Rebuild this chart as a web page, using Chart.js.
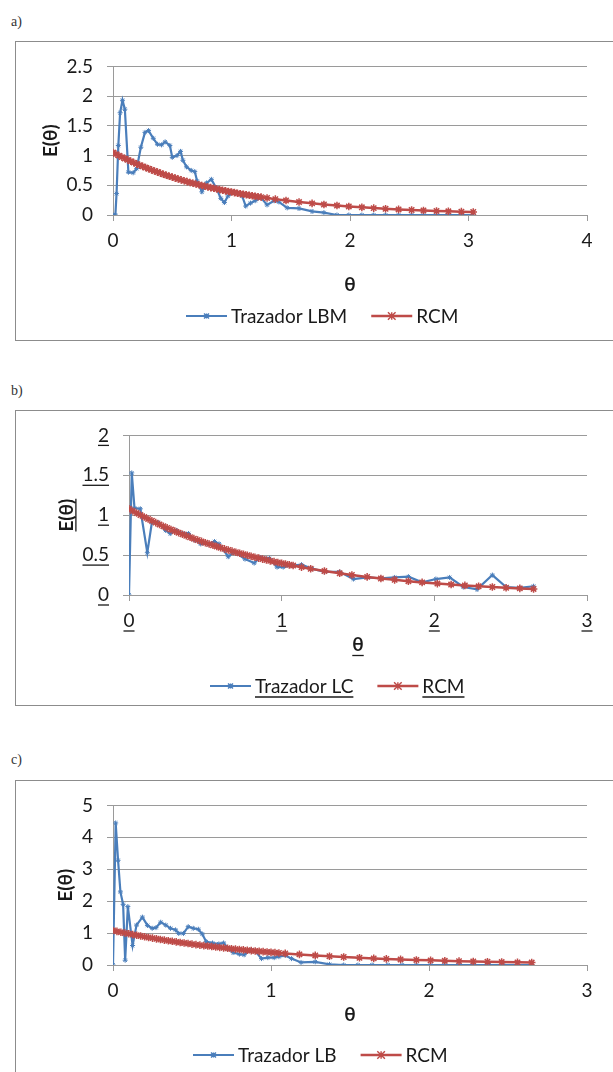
<!DOCTYPE html>
<html>
<head>
<meta charset="utf-8">
<script src="https://cdn.jsdelivr.net/npm/chart.js@4.4.1/dist/chart.umd.min.js"></script>
<style>
  body { margin: 0; background: #fff; width: 613px; height: 1072px; overflow: hidden; position: relative; }
  .lbl { position: absolute; left: 11px; font: 14px "Liberation Serif", serif; color: #333; }
  .box { position: absolute; left: 15px; width: 640px; border: 1px solid #8c8c8c; box-sizing: border-box; }
  canvas { position: absolute; left: 0; }
</style>
</head>
<body>
<div class="lbl" style="top:14px">a)</div>
<div class="box" style="top:41px;height:300px"></div>
<canvas id="chartA" width="613" height="299" style="top:41px"></canvas>

<div class="lbl" style="top:383px">b)</div>
<div class="box" style="top:410px;height:296px"></div>
<canvas id="chartB" width="613" height="295" style="top:410px"></canvas>

<div class="lbl" style="top:752px">c)</div>
<div class="box" style="top:780px;height:320px"></div>
<canvas id="chartC" width="613" height="292" style="top:780px"></canvas>

<script>
// a) Trazador LBM vs RCM
var aLbmTheta = [0, 0.02, 0.03, 0.045, 0.06, 0.08, 0.10, 0.13, 0.17, 0.20, 0.235, 0.27, 0.30, 0.34, 0.375, 0.41, 0.44, 0.48, 0.50, 0.54,
  0.57, 0.59, 0.62, 0.66, 0.69, 0.71, 0.75, 0.79, 0.83, 0.87, 0.91, 0.94, 0.97, 1.02, 1.09, 1.12, 1.16, 1.20, 1.25, 1.30,
  1.36, 1.40, 1.47, 1.57, 1.68, 1.78, 1.89, 1.99, 2.10, 2.20, 2.30, 2.41, 2.52, 2.62, 2.73, 2.83, 2.94, 3.04];
var aLbmE = [0, 0, 0.36, 1.17, 1.72, 1.93, 1.78, 0.72, 0.71, 0.78, 1.14, 1.39, 1.42, 1.29, 1.19, 1.18, 1.23, 1.17, 0.97, 1.00,
  1.07, 0.92, 0.81, 0.75, 0.73, 0.57, 0.39, 0.54, 0.60, 0.46, 0.28, 0.21, 0.32, 0.38, 0.32, 0.15, 0.20, 0.24, 0.29, 0.17,
  0.24, 0.22, 0.12, 0.11, 0.06, 0.04, 0, 0, 0, 0, 0, 0, 0, 0, 0, 0, 0, 0];
var aRcmTheta = [0, 0.025, 0.05, 0.075, 0.1, 0.125, 0.15, 0.175, 0.2, 0.225, 0.25, 0.275, 0.3, 0.325, 0.35, 0.375, 0.4, 0.425, 0.45, 0.475,
  0.5, 0.525, 0.55, 0.575, 0.6, 0.625, 0.65, 0.675, 0.7, 0.725, 0.75, 0.775, 0.8, 0.825, 0.85, 0.875, 0.9, 0.925, 0.95, 0.975,
  1.0, 1.025, 1.05, 1.075, 1.1, 1.125, 1.15, 1.175, 1.2, 1.225, 1.25, 1.30, 1.37, 1.46, 1.57, 1.68, 1.78, 1.89, 1.99, 2.10,
  2.20, 2.30, 2.41, 2.52, 2.62, 2.73, 2.83, 2.94, 3.04];
var aRcmE = [1.050, 1.024, 0.999, 0.974, 0.950, 0.927, 0.904, 0.881, 0.860, 0.838, 0.818, 0.798, 0.778, 0.759, 0.740, 0.722, 0.704, 0.686, 0.669, 0.653,
  0.637, 0.621, 0.606, 0.591, 0.576, 0.562, 0.548, 0.535, 0.521, 0.509, 0.496, 0.484, 0.472, 0.460, 0.449, 0.438, 0.427, 0.416, 0.406, 0.396,
  0.386, 0.377, 0.367, 0.358, 0.350, 0.341, 0.332, 0.324, 0.316, 0.308, 0.301, 0.286, 0.267, 0.244, 0.218, 0.196, 0.177, 0.159, 0.144, 0.129,
  0.116, 0.105, 0.094, 0.084, 0.076, 0.068, 0.062, 0.056, 0.050];

// b) Trazador LC vs RCM
var bLcTheta = [0, 0.018, 0.036, 0.074, 0.12, 0.15, 0.19, 0.24, 0.27, 0.31, 0.36, 0.39, 0.43, 0.47, 0.52, 0.56, 0.59, 0.65, 0.69, 0.76,
  0.82, 0.86, 0.92, 0.97, 1.01, 1.07, 1.13, 1.20, 1.28, 1.38, 1.47, 1.56, 1.65, 1.74, 1.83, 1.92, 2.01, 2.10, 2.19, 2.28,
  2.38, 2.47, 2.56, 2.65];
var bLcE = [0, 1.53, 1.09, 1.08, 0.53, 0.91, 0.91, 0.81, 0.77, 0.81, 0.77, 0.77, 0.69, 0.64, 0.64, 0.67, 0.64, 0.48, 0.54, 0.45,
  0.40, 0.47, 0.46, 0.35, 0.35, 0.37, 0.38, 0.33, 0.29, 0.29, 0.20, 0.22, 0.21, 0.22, 0.23, 0.16, 0.20, 0.22, 0.10, 0.07,
  0.25, 0.10, 0.09, 0.11];
var bRcmTheta = [0, 0.025, 0.05, 0.075, 0.1, 0.125, 0.15, 0.175, 0.2, 0.225, 0.25, 0.275, 0.3, 0.325, 0.35, 0.375, 0.4, 0.425, 0.45, 0.475,
  0.5, 0.525, 0.55, 0.575, 0.6, 0.625, 0.65, 0.675, 0.7, 0.725, 0.75, 0.775, 0.8, 0.825, 0.85, 0.875, 0.9, 0.925, 0.95, 0.975,
  1.0, 1.025, 1.05, 1.075, 1.13, 1.19, 1.28, 1.38, 1.46, 1.56, 1.65, 1.74, 1.83, 1.92, 2.02, 2.11, 2.20, 2.29, 2.38, 2.47,
  2.56, 2.65];
var bRcmE = [1.080, 1.053, 1.027, 1.002, 0.977, 0.953, 0.930, 0.907, 0.884, 0.862, 0.841, 0.820, 0.800, 0.780, 0.761, 0.742, 0.724, 0.706, 0.689, 0.672,
  0.655, 0.639, 0.623, 0.608, 0.593, 0.578, 0.564, 0.550, 0.536, 0.523, 0.510, 0.498, 0.485, 0.473, 0.462, 0.450, 0.439, 0.428, 0.418, 0.407,
  0.397, 0.388, 0.378, 0.369, 0.349, 0.329, 0.300, 0.272, 0.251, 0.227, 0.207, 0.190, 0.173, 0.158, 0.143, 0.131, 0.120, 0.109, 0.100, 0.091,
  0.083, 0.076];

// c) Trazador LB vs RCM
var cLbTheta = [0, 0.017, 0.032, 0.047, 0.064, 0.077, 0.094, 0.124, 0.149, 0.186, 0.218, 0.248, 0.272, 0.302, 0.334, 0.364, 0.396, 0.416, 0.446, 0.476,
  0.508, 0.54, 0.565, 0.59, 0.63, 0.67, 0.70, 0.73, 0.76, 0.80, 0.83, 0.87, 0.90, 0.94, 0.98, 1.02, 1.05, 1.09, 1.13, 1.19,
  1.28, 1.37, 1.46, 1.55, 1.64, 1.74, 1.83, 1.92, 2.01, 2.10, 2.19, 2.28, 2.38, 2.47, 2.56, 2.65];
var cLbE = [0, 4.45, 3.28, 2.29, 1.90, 0.15, 1.83, 0.61, 1.25, 1.50, 1.24, 1.15, 1.17, 1.34, 1.25, 1.15, 1.10, 0.99, 0.99, 1.20,
  1.15, 1.12, 0.97, 0.73, 0.69, 0.66, 0.69, 0.51, 0.39, 0.34, 0.32, 0.46, 0.44, 0.20, 0.23, 0.23, 0.26, 0.30, 0.20, 0.08,
  0.10, 0.02, 0, 0, 0, 0, 0, 0, 0, 0, 0, 0, 0, 0, 0, 0];
var cRcmTheta = [0, 0.025, 0.05, 0.075, 0.1, 0.125, 0.15, 0.175, 0.2, 0.225, 0.25, 0.275, 0.3, 0.325, 0.35, 0.375, 0.4, 0.425, 0.45, 0.475,
  0.5, 0.525, 0.55, 0.575, 0.6, 0.625, 0.65, 0.675, 0.7, 0.725, 0.75, 0.775, 0.8, 0.825, 0.85, 0.875, 0.9, 0.925, 0.95, 0.975,
  1.0, 1.025, 1.05, 1.09, 1.18, 1.28, 1.37, 1.46, 1.56, 1.65, 1.73, 1.82, 1.92, 2.01, 2.10, 2.19, 2.28, 2.37, 2.46, 2.56,
  2.65];
var cRcmE = [1.080, 1.053, 1.027, 1.002, 0.977, 0.953, 0.930, 0.907, 0.884, 0.862, 0.841, 0.820, 0.800, 0.780, 0.761, 0.742, 0.724, 0.706, 0.689, 0.672,
  0.655, 0.639, 0.623, 0.608, 0.593, 0.578, 0.564, 0.550, 0.536, 0.523, 0.510, 0.498, 0.485, 0.473, 0.462, 0.450, 0.439, 0.428, 0.418, 0.407,
  0.397, 0.388, 0.378, 0.363, 0.332, 0.300, 0.274, 0.251, 0.227, 0.207, 0.191, 0.175, 0.158, 0.145, 0.132, 0.121, 0.110, 0.101, 0.092, 0.083,
  0.076];

var BLUE = "#4a7ebb";
var RED = "#be4b48";
var GRID = "#9a9a9a";
var TEXT = "#1a1a1a";
var FONT = "Lato, 'Open Sans', sans-serif";
var FS = 19;

function toPoints(xs, ys) {
  var pts = [];
  for (var i = 0; i < xs.length; i++) pts.push({ x: xs[i], y: ys[i] });
  return pts;
}

// Excel style star marker
function drawStar(ctx, x, y, r) {
  ctx.beginPath();
  ctx.moveTo(x - r, y - r); ctx.lineTo(x + r, y + r);
  ctx.moveTo(x - r, y + r); ctx.lineTo(x + r, y - r);
  ctx.moveTo(x, y - r); ctx.lineTo(x, y + r);
  ctx.stroke();
}

function underline(ctx, x1, x2, y) {
  ctx.beginPath();
  ctx.moveTo(x1, y); ctx.lineTo(x2, y);
  ctx.stroke();
}

// legend: line with marker in the middle, then the text
var excelLegend = {
  id: "excelLegend",
  afterDraw: function (chart, args, opts) {
    var ctx = chart.ctx;
    var x = opts.x, y = opts.y;
    ctx.save();
    ctx.font = FS + "px " + FONT;
    ctx.textBaseline = "middle";
    chart.data.datasets.forEach(function (ds) {
      ctx.strokeStyle = ds.borderColor;
      ctx.lineWidth = ds.borderWidth;
      ctx.beginPath(); ctx.moveTo(x, y); ctx.lineTo(x + 41, y); ctx.stroke();
      ctx.lineWidth = 1.4;
      drawStar(ctx, x + 20.5, y, ds.pointRadius);
      ctx.fillStyle = TEXT;
      ctx.fillText(ds.label, x + 45, y + 1);
      var w = ctx.measureText(ds.label).width;
      if (opts.underline) {
        ctx.strokeStyle = TEXT; ctx.lineWidth = 1.3;
        underline(ctx, x + 45, x + 45 + w, y + 11);
      }
      x += 45 + w + 24;
    });
    ctx.restore();
  }
};

// underline tick labels and titles (panel b)
var underlineText = {
  id: "underlineText",
  afterDraw: function (chart, args, opts) {
    if (!opts.on) return;
    var ctx = chart.ctx;
    var area = chart.chartArea;
    ctx.save();
    ctx.strokeStyle = TEXT;
    ctx.lineWidth = 1.3;
    ctx.font = FS + "px " + FONT;
    var xs = chart.scales.x, ys = chart.scales.y;
    ys.ticks.forEach(function (t, i) {
      var w = ctx.measureText(t.label).width;
      var xr = area.left - 6 - 14;
      var py = ys.getPixelForTick(i);
      underline(ctx, xr - w, xr, py + 10);
    });
    xs.ticks.forEach(function (t, i) {
      var w = ctx.measureText(t.label).width;
      var px = xs.getPixelForTick(i);
      var py = area.bottom + 6 + 8 + 22;
      underline(ctx, px - w / 2, px + w / 2, py);
    });
    ctx.font = "bold " + FS + "px " + FONT;
    var tw = ctx.measureText("θ").width;
    var cx = (area.left + area.right) / 2;
    underline(ctx, cx - tw / 2, cx + tw / 2, xs.bottom - 0.5);
    var ew = ctx.measureText("E(θ)").width;
    var cy = (area.top + area.bottom) / 2;
    var lx = ys.left + 11.4 + 9.5;
    ctx.beginPath(); ctx.moveTo(lx, cy - ew / 2); ctx.lineTo(lx, cy + ew / 2); ctx.stroke();
    ctx.restore();
  }
};

function plainNumber(v) {
  return String(Math.round(v * 100) / 100);
}

function makeChart(id, p) {
  return new Chart(document.getElementById(id), {
    type: "line",
    data: {
      datasets: [
        {
          label: p.tracerName,
          data: toPoints(p.tx, p.ty),
          borderColor: BLUE,
          backgroundColor: BLUE,
          borderWidth: 2.2,
          pointStyle: "star",
          pointRadius: 2.5,
          pointBorderWidth: 1,
          pointBorderColor: BLUE,
          order: 1
        },
        {
          label: "RCM",
          data: toPoints(p.rx, p.ry),
          borderColor: RED,
          backgroundColor: RED,
          borderWidth: 2.5,
          pointStyle: "star",
          pointRadius: 3.8,
          pointBorderWidth: 1.5,
          pointBorderColor: RED,
          order: 0
        }
      ]
    },
    options: {
      responsive: false,
      animation: false,
      events: [],
      layout: { padding: { left: p.padL, top: p.padT, right: 26, bottom: p.padB } },
      plugins: {
        legend: { display: false },
        tooltip: { enabled: false },
        excelLegend: { x: p.legendX, y: p.legendY, underline: p.underline },
        underlineText: { on: p.underline }
      },
      scales: {
        x: {
          type: "linear",
          min: 0,
          max: p.xMax,
          ticks: { stepSize: 1, padding: 8, color: TEXT, font: { family: FONT, size: FS }, callback: plainNumber },
          grid: { drawOnChartArea: false, tickLength: 6, color: GRID },
          border: { color: GRID },
          title: { display: true, text: "θ", color: TEXT, padding: 0, font: { family: FONT, size: FS, weight: "bold" } },
          afterFit: function (s) { s.height = p.xH; }
        },
        y: {
          min: 0,
          max: p.yMax,
          ticks: { stepSize: p.yStep, padding: 14, color: TEXT, font: { family: FONT, size: FS }, callback: plainNumber },
          grid: { tickLength: 6, color: GRID },
          border: { color: GRID },
          title: { display: true, text: "E(θ)", color: TEXT, padding: 0, font: { family: FONT, size: FS, weight: "bold" } },
          afterFit: function (s) { s.width = p.yW; }
        }
      }
    },
    plugins: [excelLegend, underlineText]
  });
}

makeChart("chartA", {
  tracerName: "Trazador LBM", tx: aLbmTheta, ty: aLbmE, rx: aRcmTheta, ry: aRcmE,
  xMax: 4, yMax: 2.5, yStep: 0.5,
  padL: 39, padT: 24, padB: 44, xH: 81, yW: 74,
  legendX: 186, legendY: 275, underline: false
});
makeChart("chartB", {
  tracerName: "Trazador LC", tx: bLcTheta, ty: bLcE, rx: bRcmTheta, ry: bRcmE,
  xMax: 3, yMax: 2, yStep: 0.5,
  padL: 55, padT: 23, padB: 49, xH: 61, yW: 74,
  legendX: 210, legendY: 276, underline: true
});
makeChart("chartC", {
  tracerName: "Trazador LB", tx: cLbTheta, ty: cLbE, rx: cRcmTheta, ry: cRcmE,
  xMax: 3, yMax: 5, yStep: 1,
  padL: 54, padT: 22, padB: 46, xH: 61, yW: 59,
  legendX: 193, legendY: 275, underline: false
});
</script>
</body>
</html>
